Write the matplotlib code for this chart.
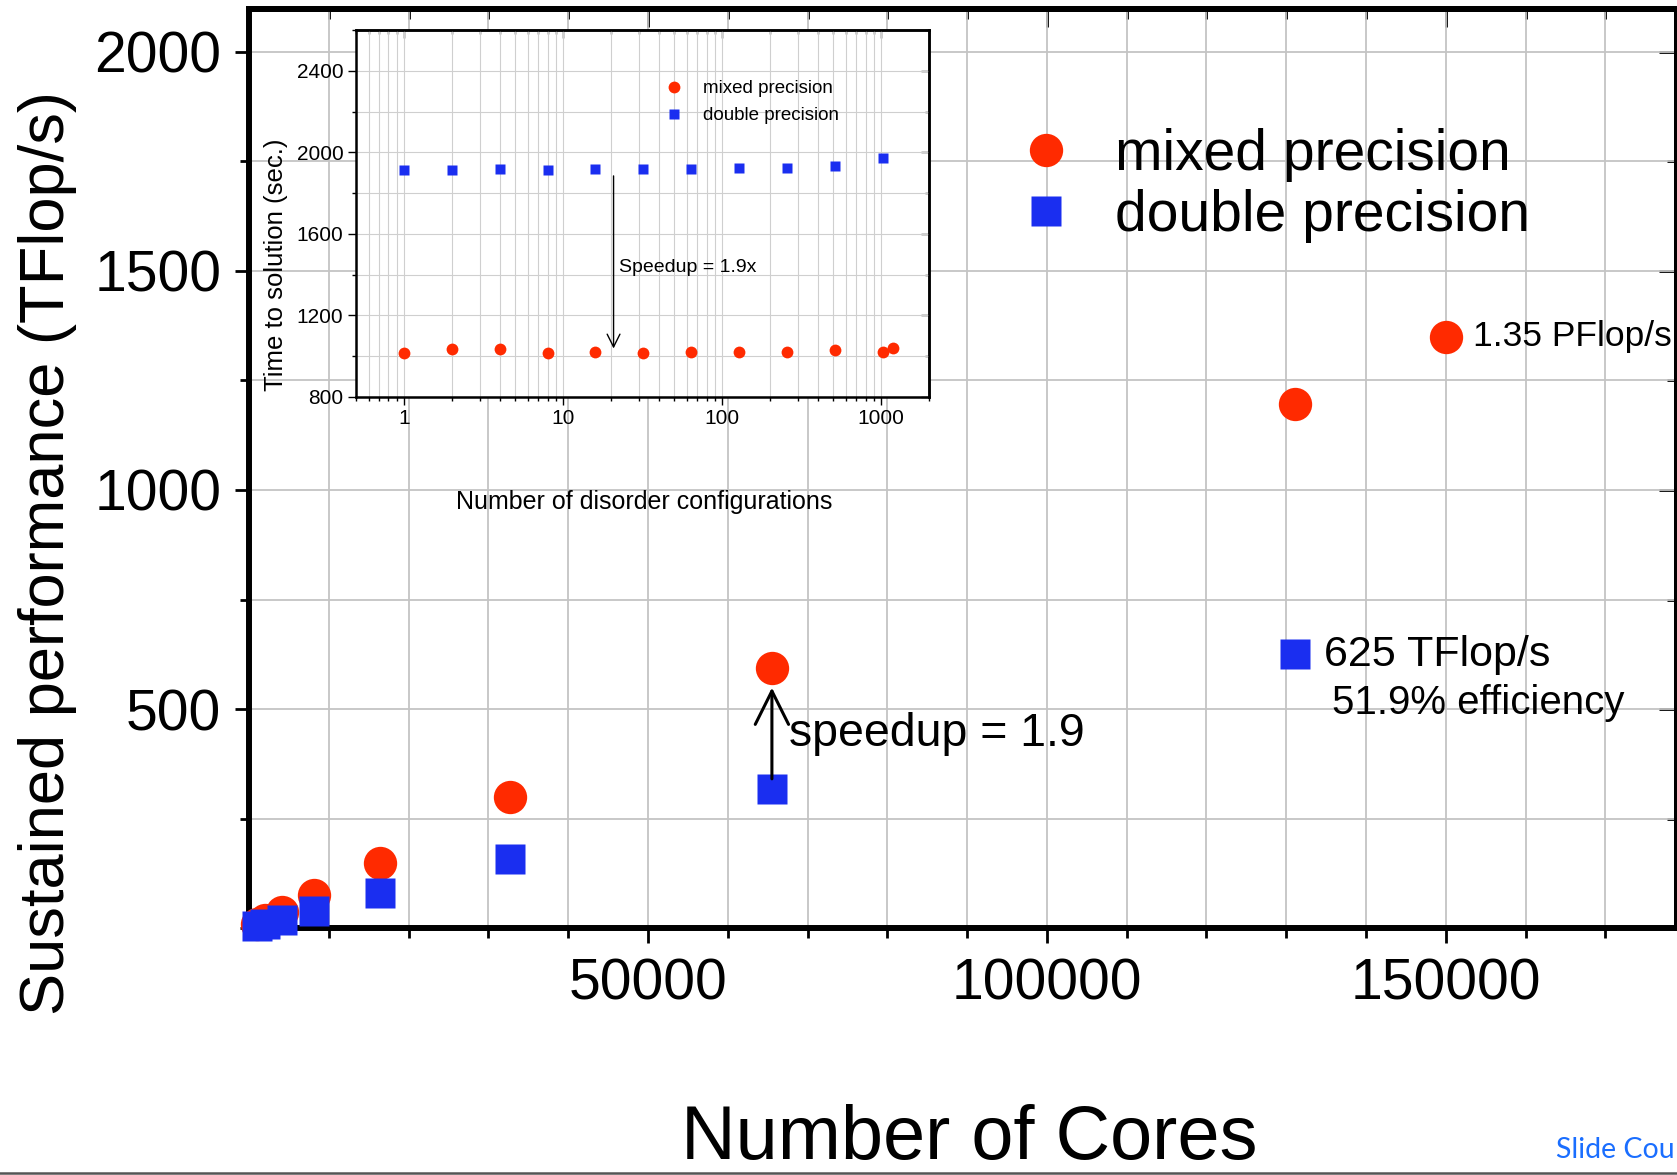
import numpy as np
import matplotlib
matplotlib.use("Agg")
import matplotlib.pyplot as plt
from matplotlib.ticker import MultipleLocator, FixedLocator, NullFormatter

plt.rcParams['font.family'] = ['Liberation Sans', 'DejaVu Sans']

# main plot: sustained performance vs number of cores
mixed_cores = [1024, 2048, 4096, 8192, 16384, 32768, 65536, 131072, 150000]
mixed_tflops = [9, 19, 38, 76, 150, 300, 593, 1195, 1349]
double_cores = [1024, 2048, 4096, 8192, 16384, 32768, 65536, 131072]
double_tflops = [5, 10, 20, 40, 80, 159, 317, 625]

# inset: time to solution vs number of disorder configurations
inset_cfg_mixed = [1, 2, 4, 8, 16, 32, 64, 128, 256, 512, 1024, 1180]
inset_time_mixed = [1018, 1037, 1037, 1018, 1019, 1016, 1019, 1021, 1021, 1029, 1022, 1039]
inset_cfg_double = [1, 2, 4, 8, 16, 32, 64, 128, 256, 512, 1024]
inset_time_double = [1912, 1916, 1917, 1916, 1919, 1919, 1921, 1922, 1922, 1935, 1971]

RED = '#ff2a00'
BLUE = '#1a2ef0'

W, H = 1677, 1175
fig = plt.figure(figsize=(W / 100, H / 100), dpi=100)

# ---------------- main axes ----------------
ax = fig.add_axes([249 / W, 1 - 928.3 / H, 1 - 249 / W, (928.3 - 8.6) / H])
ax.set_xlim(0, 178970)
ax.set_ylim(0, 2098)

ax.plot(mixed_cores, mixed_tflops, 'o', color=RED, ms=24, mec='none',
        clip_on=False, zorder=4, label='mixed precision')
ax.plot(double_cores, double_tflops, 's', color=BLUE, ms=22, mec='none',
        clip_on=False, zorder=5, label='double precision')

ax.xaxis.set_major_locator(FixedLocator([50000, 100000, 150000]))
ax.xaxis.set_minor_locator(MultipleLocator(10000))
ax.yaxis.set_major_locator(FixedLocator([500, 1000, 1500, 2000]))
ax.yaxis.set_minor_locator(MultipleLocator(250))
ax.grid(True, which='both', color='#c4c4c4', lw=1.3)
ax.set_axisbelow(True)
for s in ax.spines.values():
    s.set_linewidth(4.3)
ax.tick_params(axis='both', which='major', direction='out', width=2, labelsize=41)
ax.tick_params(axis='x', which='major', length=11, pad=10)
ax.tick_params(axis='x', which='minor', length=7, width=2)
ax.tick_params(axis='y', which='major', length=10, pad=10)
ax.tick_params(axis='y', which='minor', length=6.5, width=2)

top = ax.secondary_xaxis('top')
top.xaxis.set_major_locator(FixedLocator([50000, 100000, 150000]))
top.xaxis.set_minor_locator(MultipleLocator(10000))
top.tick_params(which='both', direction='in', labeltop=False, width=2)
top.tick_params(which='major', length=13)
top.tick_params(which='minor', length=7)
right = ax.secondary_yaxis('right')
right.yaxis.set_major_locator(FixedLocator([500, 1000, 1500, 2000]))
right.yaxis.set_minor_locator(MultipleLocator(250))
right.tick_params(which='both', direction='in', labelright=False, width=2)
right.tick_params(which='major', length=13)
right.tick_params(which='minor', length=7)
for sec in (top, right):
    for s in sec.spines.values():
        s.set_linewidth(4.3)

fig.text(969 / W, 1 - 1139 / H, 'Number of Cores', fontsize=54.5, ha='center', va='center')
fig.text(48 / W, 1 - 553 / H, 'Sustained performance (TFlop/s)', fontsize=45.5,
         rotation=90, ha='center', va='center')

ax.legend(loc='upper left', bbox_to_anchor=(0.538, 0.8705), frameon=False,
          fontsize=41, numpoints=1, handlelength=1.0, handletextpad=0.72,
          labelspacing=0.13, borderpad=0, borderaxespad=0)

ax.annotate('', xy=(65536, 549), xytext=(65536, 341),
            arrowprops=dict(arrowstyle='->', lw=2.2, color='black',
                            mutation_scale=60, shrinkA=0, shrinkB=0), zorder=6)
ax.text(67700, 444, 'speedup = 1.9', fontsize=33.5, va='center', ha='left')
ax.text(153400, 1349, '1.35 PFlop/s', fontsize=25.5, va='center', ha='left')
ax.text(134750, 624, '625 TFlop/s', fontsize=31, va='center', ha='left')
ax.text(135700, 515, '51.9% efficiency', fontsize=29, va='center', ha='left')

# ---------------- inset ----------------
ins = fig.add_axes([356 / W, 1 - 397 / H, (929 - 356) / W, (397 - 30) / H])
ins.set_facecolor('white')
ins.set_xscale('log')
ins.set_xlim(0.5, 2000)
ins.set_ylim(800, 2601)
ins.plot(inset_cfg_mixed, inset_time_mixed, 'o', color=RED, ms=8.5, mec='none',
         label='mixed precision', zorder=4)
ins.plot(inset_cfg_double, inset_time_double, 's', color=BLUE, ms=7.8, mec='none',
         label='double precision', zorder=4)
ins.set_xticks([1, 10, 100, 1000], ['1', '10', '100', '1000'])
ins.xaxis.set_minor_formatter(NullFormatter())
ins.yaxis.set_major_locator(MultipleLocator(400))
ins.yaxis.set_minor_locator(MultipleLocator(200))
ins.grid(True, which='both', color='#cfcfcf', lw=0.8)
ins.set_axisbelow(True)
for s in ins.spines.values():
    s.set_linewidth(1.8)
ins.tick_params(which='both', direction='out', labelsize=15, width=1)
ins.tick_params(which='major', length=6, pad=3)
ins.tick_params(which='minor', length=3)
itop = ins.secondary_xaxis('top')
itop.tick_params(which='both', direction='in', labeltop=False, width=1)
itop.tick_params(which='major', length=6)
itop.tick_params(which='minor', length=3)
itop.xaxis.set_minor_formatter(NullFormatter())
iright = ins.secondary_yaxis('right')
iright.yaxis.set_major_locator(MultipleLocator(400))
iright.yaxis.set_minor_locator(MultipleLocator(200))
iright.tick_params(which='both', direction='in', labelright=False, width=1)
iright.tick_params(which='major', length=6)
iright.tick_params(which='minor', length=3)
for sec in (itop, iright):
    for s in sec.spines.values():
        s.set_linewidth(1.8)

fig.text(644 / W, 1 - 502 / H, 'Number of disorder configurations', fontsize=18,
         ha='center', va='center')
fig.text(276 / W, 1 - 265 / H, 'Time to solution (sec.)', fontsize=18.5,
         rotation=90, ha='center', va='center')

ins.legend(loc='upper left', bbox_to_anchor=(0.5386, 0.863), frameon=False,
           fontsize=13.5, numpoints=1, handlelength=1.0, handletextpad=1.05,
           labelspacing=0.51, borderpad=0, borderaxespad=0)

ins.annotate('', xy=(20.8, 1038), xytext=(20.8, 1885),
             arrowprops=dict(arrowstyle='->', lw=1, color='black',
                             mutation_scale=23, shrinkA=0, shrinkB=0))
ins.text(22.5, 1435, 'Speedup = 1.9x', fontsize=14, va='center', ha='left')

# slide footer (the reference shows only the start of it)
fig.add_artist(plt.Line2D([0, 1], [1 - 1173 / H, 1 - 1173 / H], color='#555555', lw=1.8))
fig.text(1556 / W, 1 - 1150 / H, 'Slide Cou', fontsize=20.5, color='#1a6eff',
         family=['Lato', 'DejaVu Sans'], va='center', ha='left')

fig.savefig('out.png', dpi=100)
